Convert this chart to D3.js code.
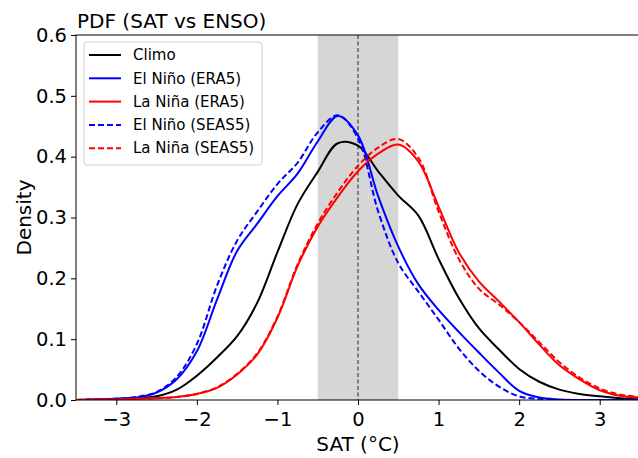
<!DOCTYPE html>
<html>
<head>
<meta charset="utf-8">
<script src="https://cdn.jsdelivr.net/npm/d3@7"></script>
<style>
  html, body { margin: 0; padding: 0; background: #fff; }
  svg { display: block; font-family: "DejaVu Sans", sans-serif; }
</style>
</head>
<body>
<svg id="chart" width="638" height="458"></svg>
<script>
// ---- data ----
const xGrid = [-3.5, -3.25, -3, -2.75, -2.5, -2.25, -2, -1.75, -1.5, -1.25, -1, -0.75, -0.5, -0.25, 0, 0.25, 0.5, 0.75, 1, 1.25, 1.5, 1.75, 2, 2.25, 2.5, 2.75, 3, 3.25, 3.5];

const climo       = [0.000, 0.001, 0.002, 0.003, 0.006, 0.017, 0.040, 0.070, 0.105, 0.160, 0.243, 0.322, 0.375, 0.422, 0.418, 0.376, 0.336, 0.303, 0.232, 0.168, 0.118, 0.083, 0.051, 0.030, 0.017, 0.010, 0.006, 0.003, 0.001];
const elNinoERA5  = [0.000, 0.001, 0.002, 0.004, 0.012, 0.034, 0.080, 0.165, 0.245, 0.290, 0.335, 0.372, 0.425, 0.467, 0.435, 0.335, 0.252, 0.190, 0.148, 0.112, 0.078, 0.045, 0.015, 0.004, 0.001, 0.000, 0.000, 0.000, 0.000];
const laNinaERA5  = [0.000, 0.001, 0.001, 0.002, 0.003, 0.005, 0.010, 0.020, 0.042, 0.075, 0.135, 0.220, 0.285, 0.334, 0.376, 0.405, 0.420, 0.392, 0.318, 0.243, 0.195, 0.162, 0.128, 0.091, 0.057, 0.034, 0.016, 0.007, 0.004];
const elNinoSEAS5 = [0.000, 0.001, 0.002, 0.005, 0.013, 0.038, 0.092, 0.188, 0.262, 0.310, 0.355, 0.390, 0.440, 0.468, 0.430, 0.310, 0.225, 0.178, 0.132, 0.085, 0.048, 0.022, 0.006, 0.002, 0.000, 0.000, 0.000, 0.000, 0.000];
const laNinaSEAS5 = [0.000, 0.001, 0.001, 0.002, 0.003, 0.005, 0.010, 0.021, 0.043, 0.077, 0.137, 0.223, 0.290, 0.342, 0.385, 0.415, 0.429, 0.398, 0.310, 0.232, 0.183, 0.157, 0.128, 0.095, 0.062, 0.037, 0.019, 0.009, 0.005];

const xTicks = [-3, -2, -1, 0, 1, 2, 3];
const yTicks = [0.0, 0.1, 0.2, 0.3, 0.4, 0.5, 0.6];
const neutralBand = [-0.5, 0.5];

const seriesNames  = ["Climo", "El Niño (ERA5)", "La Niña (ERA5)", "El Niño (SEAS5)", "La Niña (SEAS5)"];
const seriesValues = [climo, elNinoERA5, laNinaERA5, elNinoSEAS5, laNinaSEAS5];
const seriesColors = ["#000000", "#0000ff", "#ff0000", "#0000ff", "#ff0000"];
const seriesDashed = [false, false, false, true, true];

const titleText = "PDF (SAT vs ENSO)";
const xLabel = "SAT (°C)";
const yLabel = "Density";

// ---- layout ----
const svg = d3.select("#chart");
const m = { left: 76, right: 640, top: 35, bottom: 400 };

const x = d3.scaleLinear().domain([-3.5, 3.5]).range([m.left, m.right]);
const y = d3.scaleLinear().domain([0, 0.6]).range([m.bottom, m.top]);

svg.append("defs").append("clipPath").attr("id", "plotClip")
  .append("rect").attr("x", m.left).attr("y", m.top)
  .attr("width", m.right - m.left).attr("height", m.bottom - m.top);

const plot = svg.append("g").attr("clip-path", "url(#plotClip)");

// shaded neutral band
plot.append("rect")
  .attr("x", x(neutralBand[0])).attr("y", m.top)
  .attr("width", x(neutralBand[1]) - x(neutralBand[0]))
  .attr("height", m.bottom - m.top)
  .attr("fill", "#d6d6d6");

// zero dashed line
plot.append("line")
  .attr("x1", x(0)).attr("x2", x(0)).attr("y1", m.top).attr("y2", m.bottom)
  .attr("stroke", "#333").attr("stroke-width", 1.1).attr("stroke-dasharray", "4,2.5");

const line = d3.line()
  .x((d, i) => x(xGrid[i]))
  .y(d => y(d))
  .curve(d3.curveCatmullRom.alpha(0.5));

seriesValues.forEach((vals, i) => {
  plot.append("path")
    .attr("d", line(vals))
    .attr("fill", "none")
    .attr("stroke", seriesColors[i])
    .attr("stroke-width", 2)
    .attr("stroke-dasharray", seriesDashed[i] ? "6,3" : null)
    .attr("stroke-linejoin", "round");
});

// frame
svg.append("rect")
  .attr("x", m.left).attr("y", m.top)
  .attr("width", m.right - m.left).attr("height", m.bottom - m.top)
  .attr("fill", "none").attr("stroke", "#000").attr("stroke-width", 1);

// axes
const xAxis = svg.append("g").attr("transform", `translate(0,${m.bottom})`)
  .call(d3.axisBottom(x).tickValues(xTicks).tickSize(5).tickPadding(7)
    .tickFormat(d => d < 0 ? "\u2212" + Math.abs(d) : String(d)));
const yAxis = svg.append("g").attr("transform", `translate(${m.left},0)`)
  .call(d3.axisLeft(y).tickValues(yTicks).tickSize(5).tickPadding(4)
    .tickFormat(d3.format(".1f")));
[xAxis, yAxis].forEach(g => {
  g.select(".domain").remove();
  g.selectAll(".tick line").attr("stroke", "#000");
  g.selectAll(".tick text").attr("fill", "#000")
    .style("font-family", "DejaVu Sans, sans-serif").style("font-size", "19.5px");
});

// title and labels
svg.append("text").attr("x", m.left + 1).attr("y", 28)
  .attr("font-size", 20).attr("fill", "#000").text(titleText);
svg.append("text").attr("x", x(0)).attr("y", 451)
  .attr("text-anchor", "middle").attr("font-size", 20).attr("fill", "#000").text(xLabel);
svg.append("text")
  .attr("transform", `translate(31,${(m.top + m.bottom) / 2}) rotate(-90)`)
  .attr("text-anchor", "middle").attr("font-size", 20).attr("fill", "#000").text(yLabel);

// legend
const lg = svg.append("g");
lg.append("rect").attr("x", 84).attr("y", 42).attr("width", 178).attr("height", 123)
  .attr("rx", 3).attr("fill", "#fff").attr("fill-opacity", 0.8)
  .attr("stroke", "#d0d0d0").attr("stroke-width", 1);
seriesNames.forEach((name, i) => {
  const cy = 55 + i * 23.3;
  lg.append("line").attr("x1", 89).attr("x2", 121).attr("y1", cy).attr("y2", cy)
    .attr("stroke", seriesColors[i]).attr("stroke-width", 2)
    .attr("stroke-dasharray", seriesDashed[i] ? "6,3" : null);
  lg.append("text").attr("x", 133).attr("y", cy).attr("dy", "0.35em")
    .attr("font-size", 15).attr("fill", "#000").text(name);
});
</script>
</body>
</html>
